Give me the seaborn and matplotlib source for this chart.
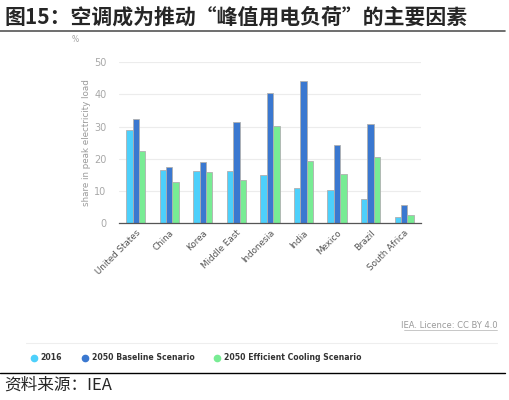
import seaborn as sns
import pandas as pd
import matplotlib.pyplot as plt
from matplotlib.lines import Line2D

# values (share in peak electricity load, %)
countries = ["United States", "China", "Korea", "Middle East", "Indonesia",
             "India", "Mexico", "Brazil", "South Africa"]
scenarios = ["2016", "2050 Baseline Scenario", "2050 Efficient Cooling Scenario"]
vals_2016 = [29.0, 16.5, 16.3, 16.0, 15.0, 10.7, 10.2, 7.5, 1.8]
vals_base = [32.5, 17.3, 19.0, 31.5, 40.5, 44.2, 24.4, 30.8, 5.4]
vals_eff = [22.5, 12.7, 15.7, 13.3, 30.3, 19.4, 15.2, 20.4, 2.5]
yticks = [0, 10, 20, 30, 40, 50]

colors = ["#4dd0fb", "#3a78d0", "#78ec94"]

df = pd.DataFrame({
    "country": countries * 3,
    "scenario": [s for s in scenarios for _ in countries],
    "value": vals_2016 + vals_base + vals_eff,
})

sns.set_style("white")
plt.rcParams['font.family'] = ['DejaVu Sans', 'Noto Sans CJK SC']

fig = plt.figure(figsize=(5.1, 4.0), dpi=100)
ax = fig.add_axes([0.2333, 0.443, 0.592, 0.401])

sns.barplot(data=df, x="country", y="value", hue="scenario", order=countries,
            hue_order=scenarios, palette=colors, width=0.57, saturation=1,
            edgecolor="#b0b0b0", linewidth=0.6, ax=ax, legend=False)

ax.set_ylim(0, 50)
ax.set_xlim(-0.5, len(countries) - 0.5)
ax.set_yticks(yticks)
ax.yaxis.grid(True, color="#ececec", linewidth=0.8)
ax.set_axisbelow(True)
for s in ["top", "right", "left"]:
    ax.spines[s].set_visible(False)
ax.spines["bottom"].set_color("#555555")
ax.spines["bottom"].set_linewidth(0.9)

ax.tick_params(axis="y", length=0, pad=9, labelsize=7, labelcolor="#a8a8a8")
ax.set_xticks(range(len(countries)))
ax.set_xticklabels(countries, rotation=45, ha="right", va="top",
                   rotation_mode="anchor", fontsize=6.3, color="#555555")
ax.tick_params(axis="x", which="major", length=0, pad=4)
ax.set_xticks([i - 0.5 for i in range(len(countries) + 1)], minor=True)
ax.tick_params(axis="x", which="minor", length=5, width=0.9, color="#555555")
ax.set_xlabel("")
ax.set_ylabel("share in peak electricity load", fontsize=6.3, color="#9a9a9a", labelpad=2)

fig.text(0.147, 0.902, "%", fontsize=5.5, color="#a0a0a0", ha="center", va="center")

# title and rules
fig.text(0.008, 0.957, "图15：空调成为推动“峰值用电负荷”的主要因素",
         fontsize=15, fontweight="bold", ha="left", va="center",
         family=['Noto Sans CJK SC', 'DejaVu Sans'])
fig.add_artist(Line2D([0, 0.99], [0.922, 0.922], color="#555555", linewidth=1.2))

fig.text(0.975, 0.185, "IEA. Licence: CC BY 4.0", fontsize=6, color="#9a9a9a",
         ha="right", va="center")
fig.add_artist(Line2D([0.792, 0.975], [0.176, 0.176], color="#b0b0b0", linewidth=0.5))
fig.add_artist(Line2D([0.05, 0.975], [0.142, 0.142], color="#eeeeee", linewidth=0.8))

handles = [Line2D([], [], marker="o", linestyle="", markersize=4.5,
                  markerfacecolor=c, markeredgecolor=c) for c in colors]
leg = fig.legend(handles, scenarios, loc="center left", bbox_to_anchor=(0.045, 0.105),
                 ncol=3, frameon=False, handletextpad=0.4, columnspacing=2.4,
                 handlelength=1.0, prop={"size": 5.6, "weight": "bold"})
for t in leg.get_texts():
    t.set_color("#333333")

fig.add_artist(Line2D([0, 0.99], [0.068, 0.068], color="black", linewidth=1.0))
fig.text(0.008, 0.036, "资料来源：IEA", fontsize=12, ha="left", va="center",
         family=['Noto Sans CJK SC', 'DejaVu Sans'])

fig.savefig("out.png", dpi=100)
